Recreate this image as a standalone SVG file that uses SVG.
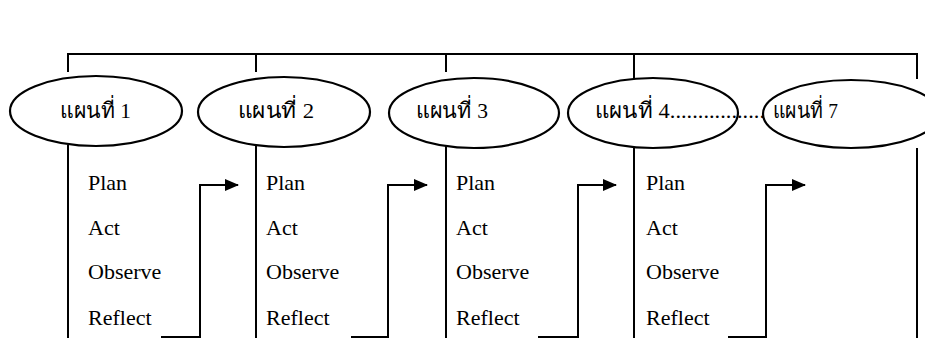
<svg xmlns="http://www.w3.org/2000/svg" width="925" height="353" viewBox="0 0 925 353">
<defs>
<style>
.ln{fill:none;stroke:#000;stroke-width:2}
.el{fill:none;stroke:#000;stroke-width:2.2}
.th{font-family:"Liberation Serif","Noto Sans CJK SC",serif;font-size:22px;fill:#000}
.lb{font-family:"Liberation Serif",serif;font-size:22px;fill:#000}
</style>
<marker id="ah" markerWidth="14" markerHeight="12" refX="13" refY="6" orient="auto" markerUnits="userSpaceOnUse">
<path d="M0,0 L14,6 L0,12 Z" fill="#000"/>
</marker>
</defs>
<rect width="925" height="353" fill="#fff"/>
<g id="connectors">
<path class="ln" d="M68,72 V54 H917 V79"/>
<path class="ln" d="M256,54 V72"/>
<path class="ln" d="M446,54 V72"/>
<path class="ln" d="M634,54 V79"/>
<path class="ln" d="M68,145 V338"/>
<path class="ln" d="M256,146 V338"/>
<path class="ln" d="M446,146 V338"/>
<path class="ln" d="M634,147 V338"/>
<path class="ln" d="M917,148 V338"/>
<path class="ln" d="M161,337 H200 V185 H238" marker-end="url(#ah)"/>
<path class="ln" d="M351,337 H388 V185 H427" marker-end="url(#ah)"/>
<path class="ln" d="M538,337 H578 V185 H616" marker-end="url(#ah)"/>
<path class="ln" d="M728,337 H766 V185 H805" marker-end="url(#ah)"/>
</g>
<g id="plan1">
<ellipse class="el" cx="96" cy="111" rx="86" ry="35"/>
<text class="th" x="60" y="118" textLength="71" lengthAdjust="spacingAndGlyphs">แผนที่ 1</text>
</g>
<g id="plan2">
<ellipse class="el" cx="284" cy="112" rx="86" ry="35"/>
<text class="th" x="238" y="118" textLength="76" lengthAdjust="spacingAndGlyphs">แผนที่ 2</text>
</g>
<g id="plan3">
<ellipse class="el" cx="474" cy="113" rx="85" ry="35"/>
<text class="th" x="416" y="118" textLength="72" lengthAdjust="spacingAndGlyphs">แผนที่ 3</text>
</g>
<g id="plan4">
<ellipse class="el" cx="653" cy="113" rx="85" ry="35"/>
<text class="th" x="595" y="118" textLength="170" lengthAdjust="spacingAndGlyphs">แผนที่ 4.................</text>
</g>
<g id="plan7">
<ellipse class="el" cx="851" cy="114" rx="88" ry="34"/>
<text class="th" x="773" y="118" textLength="65" lengthAdjust="spacingAndGlyphs">แผนที่ 7</text>
</g>
<g id="steps1">
<text class="lb" x="88" y="190">Plan</text>
<text class="lb" x="88" y="235">Act</text>
<text class="lb" x="88" y="279">Observe</text>
<text class="lb" x="88" y="325">Reflect</text>
</g>
<g id="steps2">
<text class="lb" x="266" y="190">Plan</text>
<text class="lb" x="266" y="235">Act</text>
<text class="lb" x="266" y="279">Observe</text>
<text class="lb" x="266" y="325">Reflect</text>
</g>
<g id="steps3">
<text class="lb" x="456" y="190">Plan</text>
<text class="lb" x="456" y="235">Act</text>
<text class="lb" x="456" y="279">Observe</text>
<text class="lb" x="456" y="325">Reflect</text>
</g>
<g id="steps4">
<text class="lb" x="646" y="190">Plan</text>
<text class="lb" x="646" y="235">Act</text>
<text class="lb" x="646" y="279">Observe</text>
<text class="lb" x="646" y="325">Reflect</text>
</g>
</svg>
